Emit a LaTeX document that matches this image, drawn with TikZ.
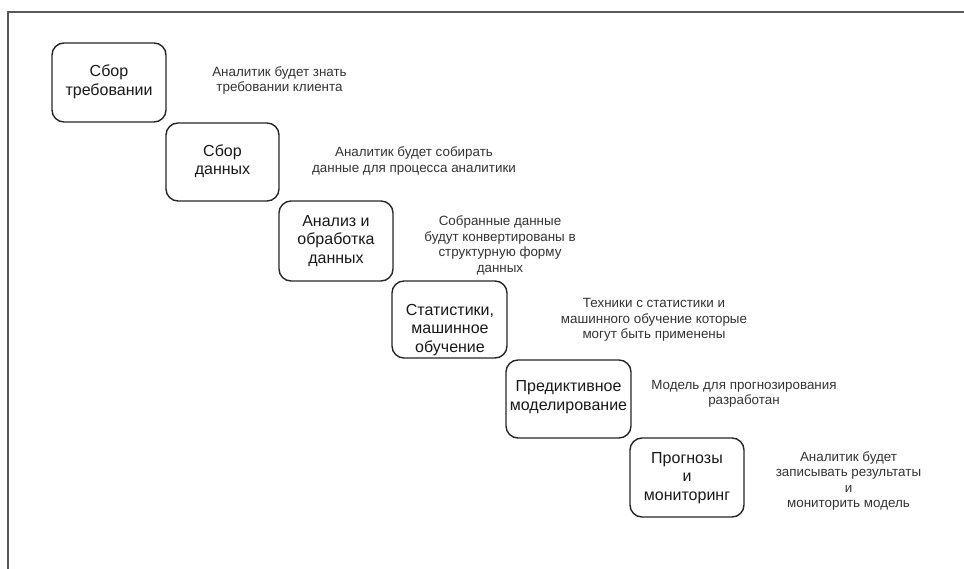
\documentclass[tikz,border=0pt]{standalone}
\usepackage{fontspec}
\setmainfont{Liberation Sans}
\begin{document}
\begin{tikzpicture}[x=1pt,y=-1pt,
  stage/.style={draw=black!85, line width=1.4pt, rounded corners=12pt, inner sep=0pt},
  stagetext/.style={align=center, font=\fontsize{16}{18.5}\selectfont, text=black!90, inner sep=0pt},
  desc/.style={align=center, font=\fontsize{13.4}{15.4}\selectfont, text=black!80, inner sep=0pt},
  frame/.style={draw=black!65, line width=1.3pt}]
\useasboundingbox (0,0) rectangle (964,569);
\coordinate (ftop) at (964,12);
\coordinate (fcorner) at (8,12);
\coordinate (fbot) at (8,569);
\draw[frame] (ftop) -- (fcorner) -- (fbot);

\node[stage, minimum width=114pt, minimum height=79pt] (b1) at (109,82.5) {};
\node[stagetext] (t1) at (109,82) {Сбор\\требовании};
\node[desc] (d1) at (279.5,80.5) {Аналитик будет знать\\требовании клиента};

\node[stage, minimum width=113pt, minimum height=78pt] (b2) at (222.5,162) {};
\node[stagetext] (t2) at (222.5,161) {Сбор\\данных};
\node[desc] (d2) at (414,161) {Аналитик будет собирать\\данные для процесса аналитики};

\node[stage, minimum width=114pt, minimum height=80pt] (b3) at (336,241) {};
\node[stagetext] (t3) at (336,241) {Анализ и\\обработка\\данных};
\node[desc] (d3) at (500,245.5) {Собранные данные\\будут конвертированы в\\структурную форму\\данных};

\node[stage, minimum width=115pt, minimum height=77pt] (b4) at (449.5,319.5) {};
\node[stagetext] (t4) at (450,330) {Статистики,\\машинное\\обучение};
\node[desc] (d4) at (654,320) {Техники с статистики и\\машинного обучение которые\\могут быть применены};

\node[stage, minimum width=125pt, minimum height=78pt] (b5) at (568.5,399) {};
\node[stagetext] (t5) at (568.5,397) {Предиктивное\\моделирование};
\node[desc] (d5) at (744,394) {Модель для прогнозирования\\разработан};

\node[stage, minimum width=114pt, minimum height=79pt] (b6) at (687,477.5) {};
\node[stagetext] (t6) at (687,478) {Прогнозы\\и\\мониторинг};
\node[desc] (d6) at (848.5,481) {Аналитик будет\\записывать результаты\\и\\мониторить модель};
\end{tikzpicture}
\end{document}
